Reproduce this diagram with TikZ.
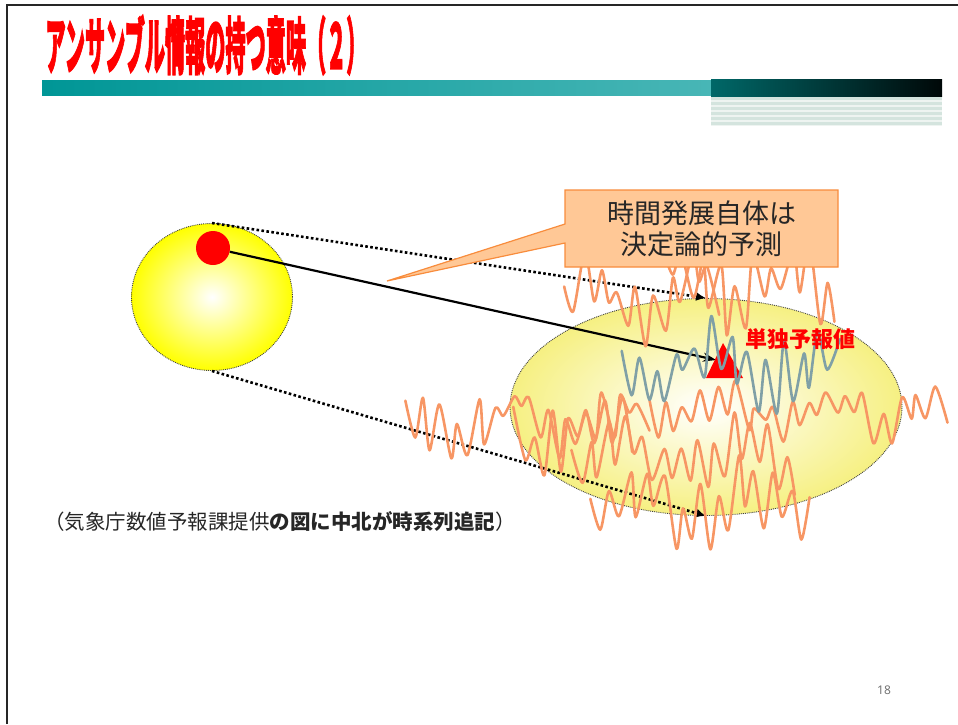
\documentclass[tikz,border=0pt]{standalone}
\usepackage{fontspec}
\setmainfont{Noto Sans}
\newfontfamily\jp{Noto Sans CJK JP}
\newfontfamily\jpheavy{Noto Sans CJK JP}[BoldFeatures={FakeBold=2.5}]
\usetikzlibrary{shapes.geometric,arrows.meta}
\definecolor{wave}{RGB}{247,150,100}
\definecolor{grayline}{RGB}{128,160,166}
\definecolor{boxfill}{RGB}{255,200,150}
\definecolor{boxedge}{RGB}{248,140,60}
\definecolor{tealA}{RGB}{0,150,150}
\definecolor{tealB}{RGB}{72,182,182}
\definecolor{darkA}{RGB}{0,104,104}
\definecolor{darkB}{RGB}{0,8,8}
\definecolor{stripeA}{RGB}{238,244,241}
\definecolor{stripeB}{RGB}{212,228,222}
\definecolor{ensyel}{RGB}{246,240,130}
\definecolor{titlered}{RGB}{255,0,0}
% seed, x0, x1, y0, amp, style, step
\newcommand{\wiggle}[7]{%
  \pgfmathsetseed{#1}%
  \pgfmathtruncatemacro\wns{(#3-#2)/#7}%
  \draw[#6] plot[smooth, tension=0.45, variable=\t, domain=0:\wns, samples=\wns+1]
    ({#2+\t*#7+0.3*#7*rand},{#4+#5*(2*mod(\t,2)-1)*(0.1+0.75*rnd)+0.45*#5*sin(\t*29+#1*50)+0.2*#5*rand});%
}
\begin{document}
\begin{tikzpicture}[x=1pt,y=-1pt,
  wavestyle/.style={wave, line width=2.6pt, line join=round, line cap=round},
  graystyle/.style={grayline, line width=2.6pt, line join=round, line cap=round},
  dotarrow/.style={line width=2.6pt, dash pattern=on 2.6pt off 2.4pt, -{Latex[length=10pt,width=9pt]}},
  mainarrow/.style={line width=2.2pt, -{Stealth[length=13pt,width=9pt]}},
  ball/.style={ellipse, draw=black!75, densely dotted, line width=0.9pt, inner sep=0pt},
  txt/.style={inner sep=0pt, outer sep=0pt}
]
\useasboundingbox (0,0) rectangle (958,724);
% frame
\draw[line width=2pt, black!85] (7,724) -- (7,5) -- (958,5);
% title
\node[txt, text=titlered] (title) at (206,45) {\scalebox{0.325}[1]{\jpheavy\bfseries\fontsize{62}{62}\selectfont アンサンブル情報の持つ意味（２）}};
% bars
\shade[left color=tealA, right color=tealB] (42,80) rectangle (711,95);
\shade[left color=darkA, right color=darkB] (711,79) rectangle (942,96);
\fill[stripeA] (711,97) rectangle (942,126);
\foreach \i in {0,...,5} \fill[stripeB] (711,{97+5*\i}) rectangle (942,{99.6+5*\i});
% balls
\node[ball, minimum width=161pt, minimum height=147pt, inner color=white, outer color=yellow] (src) at (212,297) {};
\node[ball, minimum width=392pt, minimum height=217pt, inner color=white, outer color=ensyel] (ens) at (706,407) {};
% dotted projections
\draw[dotarrow] (src.north) -- (ens.north);
\draw[dotarrow] (src.south) -- (ens.south);
% red dot and trajectory
\node[circle, fill=red, minimum size=34pt, inner sep=0pt] (dot) at (213,248) {};
\coordinate (tip) at (716,360);
\draw[mainarrow] (dot) -- (tip);
% ensemble time series
\wiggle{11}{565}{718}{298}{40}{wavestyle}{9}
\wiggle{12}{665}{838}{286}{46}{wavestyle}{9}
\wiggle{13}{405}{655}{420}{34}{wavestyle}{9}
\wiggle{14}{515}{640}{432}{38}{wavestyle}{9}
\wiggle{15}{648}{946}{410}{30}{wavestyle}{9}
\wiggle{16}{572}{800}{455}{34}{wavestyle}{9}
\wiggle{17}{593}{815}{505}{44}{wavestyle}{9}
\fill[red] (706,378) -- (723,343) -- (743,378) -- cycle;
\wiggle{21}{622}{838}{366}{50}{graystyle}{9}
% callout
\node[txt, minimum width=273pt, minimum height=77pt] (box) at (701.5,228.5) {};
\path[fill=boxfill, draw=boxedge, line width=1.2pt] (box.north west) -- (box.north east) -- (box.south east) -- (box.south west) -- ([yshift=-14.5pt]box.west) -- (387,281) -- ([yshift=4.5pt]box.west) -- cycle;
\node[txt, align=center, text=black!85, font=\jp\fontsize{27}{31}\selectfont] (boxtext) at (box.center) {時間発展自体は\\決定論的予測};
% label
\node[txt, text=red, font=\jp\bfseries\fontsize{22}{22}\selectfont] (single) at (800,339) {単独予報値};
% caption
\node[txt, anchor=west, text=black!85, font=\jp\fontsize{20.5}{22}\selectfont] (caption) at (44,522) {（気象庁数値予報課提供{\bfseries の図に中北が時系列追記}）};
% page number
\node[txt, text=black!55, font=\fontsize{12}{12}\selectfont] (page) at (884,690) {18};
\end{tikzpicture}
\end{document}
